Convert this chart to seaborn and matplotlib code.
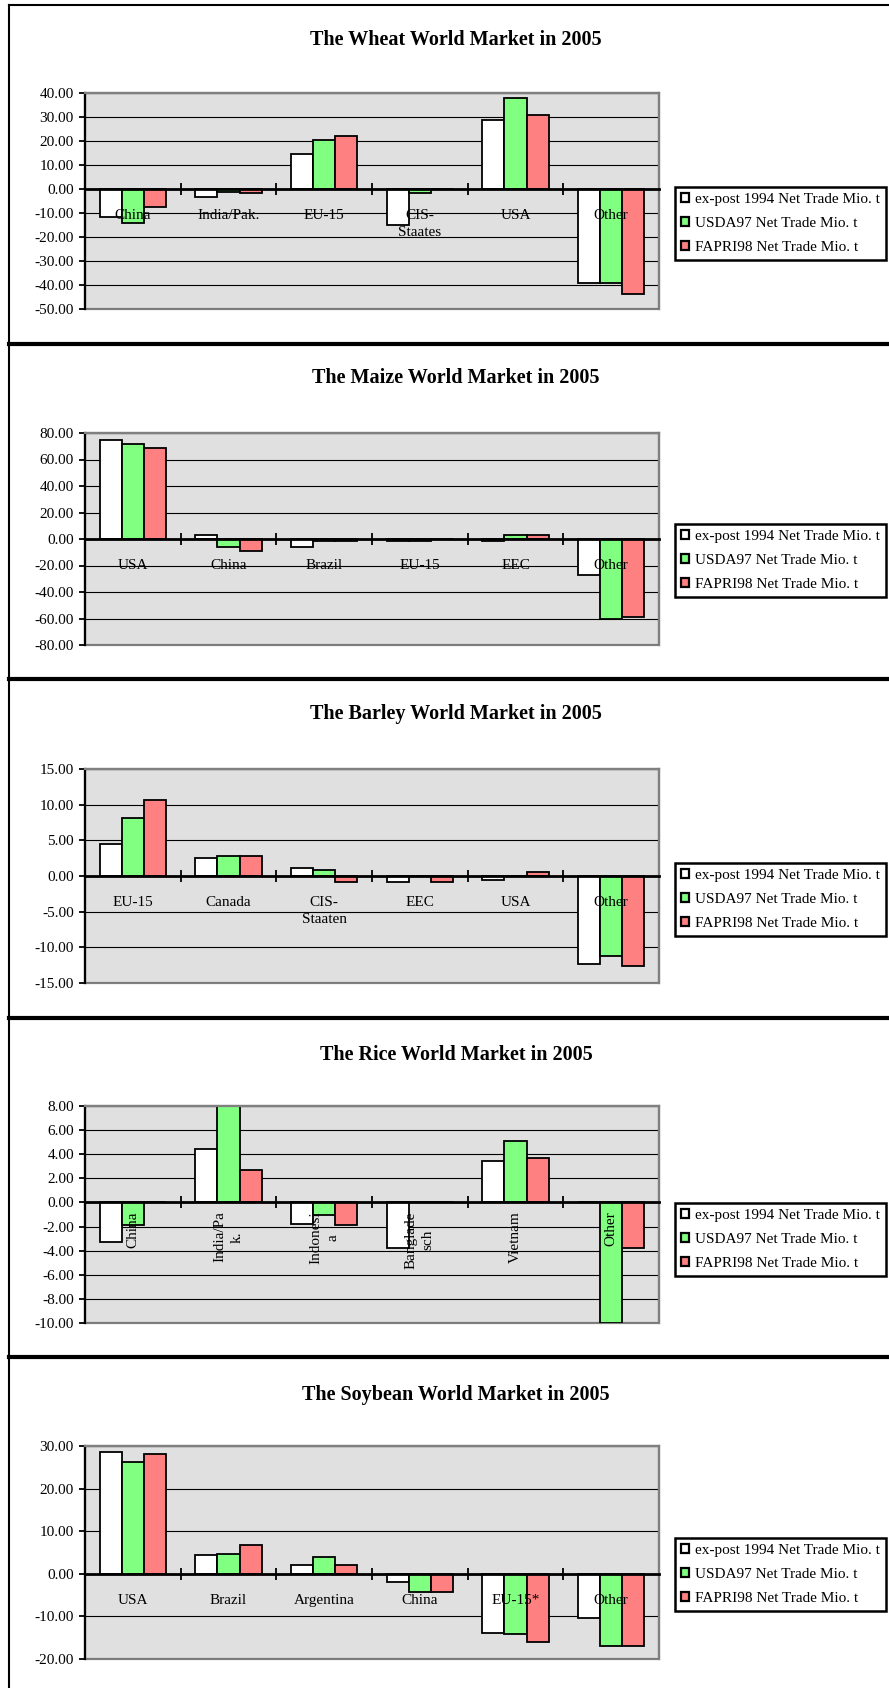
import numpy as np
import pandas as pd
import matplotlib
matplotlib.use('Agg')
import matplotlib.pyplot as plt
import matplotlib.transforms as mtransforms
from matplotlib.lines import Line2D
from matplotlib.patches import Patch
from matplotlib.ticker import FormatStrFormatter
import seaborn as sns

# World grain markets 2005 - net trade (Mio. t)

series_names = ['ex-post 1994 Net Trade Mio. t', 'USDA97 Net Trade Mio. t', 'FAPRI98 Net Trade Mio. t']
series_colors = ['#FFFFFF', '#80FF80', '#FF8080']

#Wheat
wheat_labels = ['China', 'India/Pak.', 'EU-15', 'CIS-\nStaates', 'USA', 'Other']
wheat_expost = [-11.7, -3.2, 14.4, -15.1, 28.6, -39.2]
wheat_usda = [-14.1, -1.4, 20.3, -1.5, 37.8, -39.2]
wheat_fapri = [-7.5, -1.5, 21.9, 0.0, 31.0, -43.6]

#Maize
maize_labels = ['USA', 'China', 'Brazil', 'EU-15', 'EEC', 'Other']
maize_expost = [74.5, 3.3, -6.1, -1.3, -1.3, -27.3]
maize_usda = [71.5, -5.8, -1.3, -1.3, 3.3, -60.1]
maize_fapri = [68.4, -8.8, -1.3, 0.0, 3.3, -58.8]

#Barley
barley_labels = ['EU-15', 'Canada', 'CIS-\nStaaten', 'EEC', 'USA', 'Other']
barley_expost = [4.5, 2.5, 1.1, -0.9, -0.6, -12.3]
barley_usda = [8.1, 2.8, 0.8, 0.0, 0.0, -11.2]
barley_fapri = [10.7, 2.8, -0.9, -0.9, 0.6, -12.6]

#Rice
rice_labels = ['China', 'India/Pa\nk.', 'Indonesi\na', 'Banglade\nsch', 'Vietnam', 'Other']
rice_expost = [-3.3, 4.4, -1.8, -3.8, 3.4, 0.0]
rice_usda = [-1.9, 8.0, -1.0, 0.0, 5.1, -10.0]
rice_fapri = [0.0, 2.7, -1.9, 0.0, 3.7, -3.8]

#Soybean
soy_labels = ['USA', 'Brazil', 'Argentina', 'China', 'EU-15*', 'Other']
soy_expost = [28.5, 4.3, 2.0, -1.9, -13.8, -10.4]
soy_usda = [26.2, 4.7, 3.9, -4.2, -14.2, -17.0]
soy_fapri = [28.1, 6.7, 2.0, -4.2, -16.0, -17.0]

plt.rcParams['font.family'] = ['Liberation Serif', 'DejaVu Serif']

W, H = 889, 1688
fig = plt.figure(figsize=(W / 100, H / 100), dpi=100)

# title, labels, values, y range/step, rotated labels, layout (title y, plot top, plot bottom, legend top) in px
panels = [
    ('The Wheat World Market in 2005', wheat_labels, [wheat_expost, wheat_usda, wheat_fapri], (-50, 40, 10), False, (40, 93, 309, 187)),
    ('The Maize World Market in 2005', maize_labels, [maize_expost, maize_usda, maize_fapri], (-80, 80, 20), False, (378, 433, 645, 524)),
    ('The Barley World Market in 2005', barley_labels, [barley_expost, barley_usda, barley_fapri], (-15, 15, 5), False, (714, 769, 983, 863)),
    ('The Rice World Market in 2005', rice_labels, [rice_expost, rice_usda, rice_fapri], (-10, 8, 2), True, (1055, 1106, 1323, 1203)),
    ('The Soybean World Market in 2005', soy_labels, [soy_expost, soy_usda, soy_fapri], (-20, 30, 10), False, (1395, 1446, 1659, 1538)),
]

plot_left, plot_right = 85, 659

for title, labels, values, (lo, hi, step), rotated, (ty, ptop, pbot, ltop) in panels:
    rows = []
    for name, vals in zip(series_names, values):
        for lab, v in zip(labels, vals):
            rows.append({'Country': lab, 'Series': name, 'Net Trade': v})
    df = pd.DataFrame(rows)

    ax = fig.add_axes([plot_left / W, 1 - pbot / H, (plot_right - plot_left) / W, (pbot - ptop) / H])
    sns.barplot(data=df, x='Country', y='Net Trade', hue='Series', order=labels, hue_order=series_names,
                palette=series_colors, saturation=1, width=0.69, edgecolor='black', linewidth=1.3,
                legend=False, ax=ax)

    ax.set_facecolor('#E0E0E0')
    ax.patch.set_edgecolor('#808080')
    ax.patch.set_linewidth(1.6)
    ax.set_axisbelow(True)
    ax.set_xlim(-0.5, len(labels) - 0.5)
    ax.set_ylim(lo, hi)
    ax.set_yticks(np.arange(lo, hi + step / 2, step))
    ax.yaxis.set_major_formatter(FormatStrFormatter('%.2f'))
    ax.yaxis.grid(True, color='black', linewidth=0.8)
    ax.tick_params(axis='y', length=4.5, width=1.3, pad=3.5, labelsize=11, color='black')
    ax.set_xlabel('')
    ax.set_ylabel('')

    for s in ['top', 'right']:
        ax.spines[s].set_color('#808080')
        ax.spines[s].set_linewidth(1.6)
    ax.spines['left'].set_linewidth(1.6)
    ax.spines['bottom'].set_position(('data', 0))
    ax.spines['bottom'].set_linewidth(2.0)
    ax.spines['bottom'].set_zorder(4)

    ax.set_xticks([])
    ax.set_xticks(np.arange(0.5, len(labels), 1.0), minor=True)
    ax.tick_params(axis='x', which='minor', direction='inout', length=8, width=1.3, color='black')

    # category labels below the zero line, drawn above the bars
    if rotated:
        off = mtransforms.ScaledTranslation(0, -6.5 / 72, fig.dpi_scale_trans)
    else:
        off = mtransforms.ScaledTranslation(0, -14.5 / 72, fig.dpi_scale_trans)
    for i, lab in enumerate(labels):
        ax.text(i, 0, lab, transform=ax.transData + off, ha='center', va='top',
                rotation=90 if rotated else 0, multialignment='center',
                linespacing=1.4, fontsize=11, zorder=6)

    handles = [Patch(facecolor=c, edgecolor='black', linewidth=1.6) for c in series_colors]
    leg = ax.legend(handles, series_names, loc='upper left', bbox_to_anchor=(675 / W, 1 - ltop / H),
                    bbox_transform=fig.transFigure, borderaxespad=0, fontsize=11, frameon=True,
                    fancybox=False, framealpha=1, edgecolor='black', handlelength=0.55, handleheight=0.5,
                    handletextpad=0.4, labelspacing=0.72, borderpad=0.38)
    leg.get_frame().set_linewidth(1.8)

    fig.text(456 / W, 1 - ty / H, title, ha='center', va='center', fontsize=14.5, fontweight='bold')

# page frame and separators
fig.add_artist(Line2D([9 / W, 9 / W], [0, 1 - 5 / H], color='black', linewidth=1.5))
fig.add_artist(Line2D([9 / W, 1], [1 - 5 / H, 1 - 5 / H], color='black', linewidth=1.5))
for sy in [344, 679, 1018, 1357]:
    fig.add_artist(Line2D([9 / W, 1], [1 - sy / H, 1 - sy / H], color='black', linewidth=3))

plt.savefig('out.png', dpi=100)
